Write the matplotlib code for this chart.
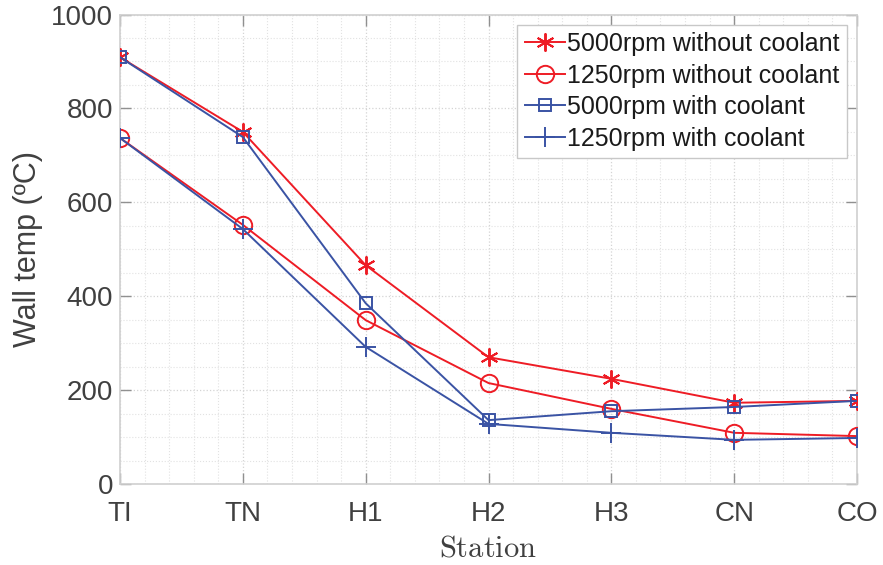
import matplotlib
matplotlib.use("Agg")
import matplotlib.pyplot as plt
from matplotlib.ticker import MultipleLocator

plt.rcParams['font.family'] = ['Liberation Sans', 'DejaVu Sans']
plt.rcParams['mathtext.fontset'] = 'cm'

stations = ['TI', 'TN', 'H1', 'H2', 'H3', 'CN', 'CO']
hot_5000 = [909, 750, 466, 270, 224, 173, 177]
hot_1250 = [737, 552, 349, 215, 160, 109, 102]
cool_5000 = [909, 739, 385, 136, 155, 164, 177]
cool_1250 = [737, 543, 292, 128, 109, 94, 98]

red = '#ee1c25'
blue = '#3a53a4'
grey = '#404040'

fig = plt.figure(figsize=(8.83, 5.65), dpi=100)
ax = fig.add_axes([0.1359, 0.1434, 0.8347, 0.8309])

x = list(range(len(stations)))
ax.plot(x, hot_5000, color=red, lw=1.4, marker=(6, 2, 0), ms=13, mew=1.4,
        label='5000rpm without coolant', zorder=3)
ax.plot(x, hot_1250, color=red, lw=1.4, marker='o', ms=12.5, mfc='none', mew=1.4,
        label='1250rpm without coolant', zorder=3)
ax.plot(x, cool_5000, color=blue, lw=1.4, marker='s', ms=9, mfc='none', mew=1.4,
        label='5000rpm with coolant', zorder=3)
ax.plot(x, cool_1250, color=blue, lw=1.4, marker='+', ms=14, mew=1.4,
        label='1250rpm with coolant', zorder=3)

ax.set_xlim(0, len(stations) - 1)
ax.set_ylim(0, 1000)
ax.set_xticks(x)
ax.set_xticklabels(stations)
ax.set_yticks(range(0, 1001, 200))
ax.xaxis.set_minor_locator(MultipleLocator(0.2))
ax.yaxis.set_minor_locator(MultipleLocator(50))

ax.grid(True, which='major', color='#d4d4d4', ls=':', lw=0.9)
ax.grid(True, which='minor', color='#e2e2e2', ls=':', lw=0.8)
ax.set_axisbelow(True)

for s in ax.spines.values():
    s.set_color('#d0d0d0')
    s.set_linewidth(1.2)

ax.tick_params(which='major', direction='in', length=8, width=1, color='#909090',
               labelcolor=grey, labelsize=20, top=True, right=True)
ax.tick_params(axis='x', which='major', pad=12)
ax.tick_params(axis='y', which='major', pad=5)
ax.tick_params(which='minor', length=0, top=True, right=True)

ax.set_ylabel('Wall temp (ºC)', fontsize=22, color=grey)
ax.set_xlabel(r'$\mathrm{Station}$', fontsize=22, color=grey, labelpad=5)
ax.yaxis.set_label_coords(-0.104, 0.5)

leg = ax.legend(loc='upper right', fontsize=18, frameon=True, fancybox=False,
                edgecolor='#c8c8c8', framealpha=1, borderpad=0.3,
                labelspacing=0.3, handlelength=1.6, handletextpad=0.1,
                borderaxespad=0.4)
leg.get_frame().set_linewidth(1.0)
for t in leg.get_texts():
    t.set_color('#1a1a1a')

fig.savefig('out.png', dpi=100)
